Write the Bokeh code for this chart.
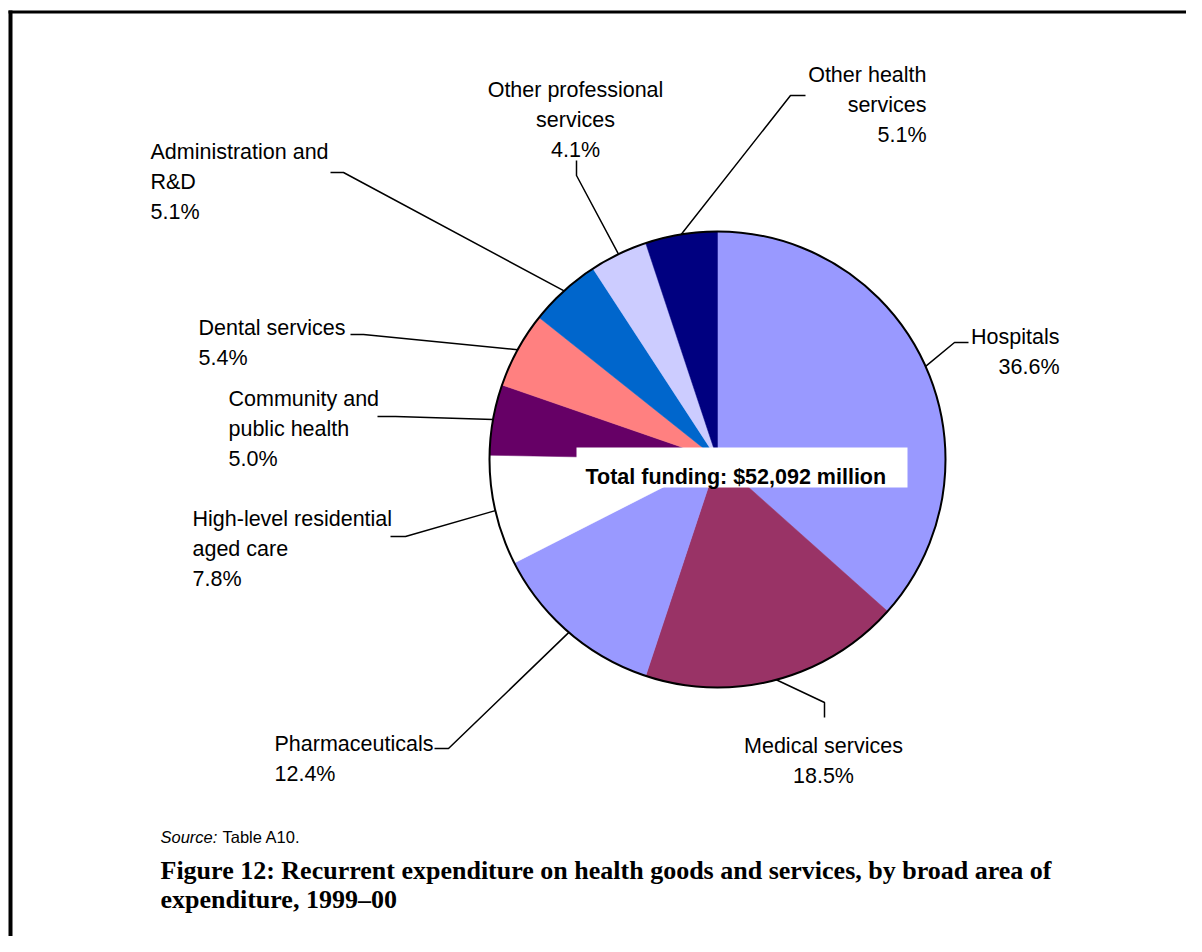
import numpy as np
from bokeh.plotting import figure
from bokeh.models import Range1d, ColumnDataSource
from bokeh.core.properties import value
from bokeh.embed import file_html
from bokeh.resources import INLINE

# ---------------- data ----------------
categories = ["Hospitals", "Medical services", "Pharmaceuticals",
              "High-level residential aged care", "Community and public health",
              "Dental services", "Administration and R&D",
              "Other professional services", "Other health services"]
label_lines = [["Hospitals"], ["Medical services"], ["Pharmaceuticals"],
               ["High-level residential", "aged care"], ["Community and", "public health"],
               ["Dental services"], ["Administration and", "R&D"],
               ["Other professional", "services"], ["Other health", "services"]]
shares = [36.6, 18.5, 12.4, 7.8, 5.0, 5.4, 5.1, 4.1, 5.1]
colors = ["#9999FF", "#993366", "#9999FF", "#FFFFFF", "#660066",
          "#FF8080", "#0066CC", "#CCCCFF", "#000080"]
total_text = "Total funding: $52,092 million"
source_note = "Table A10."
caption_lines = ["Figure 12: Recurrent expenditure on health goods and services, by broad area of",
                 "expenditure, 1999\u201300"]

# ---------------- layout (screen px) ----------------
CX, CY, R = 717, 459, 228
label_x = [1059, 823, 274, 192, 228, 198, 150, 575, 926]
label_y0 = [336, 745, 743, 518, 398, 327, 151, 89, 74]
label_align = ["right", "center", "left", "left", "left", "left", "left", "center", "right"]
LINE_H = 30
leader_bend = [(954, 342), (824, 702), (448, 748), (405, 536), (395, 416),
               (363, 334), (343, 172), (576, 175), (790, 95)]
leader_end = [(968, 342), (824, 717), (434, 748), (390, 536), (377, 416),
              (350, 334), (330, 172), (576, 160), (805, 95)]

W, H = 1186, 936
p = figure(width=W, height=H, x_range=Range1d(0, W), y_range=Range1d(-H, 0),
           output_backend="svg", toolbar_location=None, min_border=0)
p.axis.visible = False
p.grid.visible = False
p.outline_line_color = None
p.background_fill_color = "white"
p.border_fill_color = "white"

# ---------------- pie ----------------
vals = np.array(shares, dtype=float)
frac = vals / vals.sum()
cum = np.concatenate([[0.0], np.cumsum(frac)])
cw0 = cum[:-1] * 2 * np.pi   # clockwise from 12 o'clock
cw1 = cum[1:] * 2 * np.pi
src = ColumnDataSource(dict(
    start=np.pi / 2 - cw1, end=np.pi / 2 - cw0, color=colors, cat=categories))
p.wedge(x=CX, y=-CY, radius=R, start_angle="start", end_angle="end",
        direction="anticlock", fill_color="color", line_color="color",
        line_width=0.5, source=src)
p.circle(x=[CX], y=[-CY], radius=R, fill_color=None, line_color="black", line_width=2)

# ---------------- leader lines ----------------
mid = (cw0 + cw1) / 2
xs, ys = [], []
for i in range(len(shares)):
    ex = CX + R * np.sin(mid[i])
    ey = CY - R * np.cos(mid[i])
    bx, by = leader_bend[i]
    tx, ty = leader_end[i]
    xs.append([ex, bx, tx])
    ys.append([-ey, -by, -ty])
p.multi_line(xs=xs, ys=ys, line_color="black", line_width=1.5)

# ---------------- labels ----------------
for align in ["left", "center", "right"]:
    tx, ty, tt = [], [], []
    for i in range(len(shares)):
        if label_align[i] != align:
            continue
        lines = label_lines[i] + [f"{shares[i]:.1f}%"]
        for k, ln in enumerate(lines):
            tx.append(label_x[i])
            ty.append(-(label_y0[i] + k * LINE_H))
            tt.append(ln)
    p.text(x=tx, y=ty, text=tt, text_font=value("Liberation Sans"),
           text_font_size="21.5px", text_align=align, text_baseline="middle",
           text_color="black")

# ---------------- total funding box ----------------
p.quad(left=[576], right=[907], top=[-447], bottom=[-487],
       fill_color="white", line_color=None)
p.text(x=[585], y=[-476], text=[total_text], text_font=value("Liberation Sans"),
       text_font_size="21.5px", text_font_style="bold", text_align="left",
       text_baseline="middle", text_color="black")

# ---------------- source & caption ----------------
p.text(x=[160], y=[-836], text=["Source:"], text_font=value("Liberation Sans"),
       text_font_size="16.5px", text_font_style="italic", text_baseline="middle")
p.text(x=[222], y=[-836], text=[source_note], text_font=value("Liberation Sans"),
       text_font_size="16.5px", text_baseline="middle")
p.text(x=[160, 160], y=[-870, -899], text=caption_lines, text_font=value("Liberation Serif"),
       text_font_size="26px", text_font_style="bold", text_baseline="middle")

# ---------------- frame ----------------
p.line(x=[10, 10], y=[-10, -H], line_color="black", line_width=4)
p.line(x=[8, W], y=[-11.5, -11.5], line_color="black", line_width=3)

open("out.html", "w").write(file_html(p, INLINE))
